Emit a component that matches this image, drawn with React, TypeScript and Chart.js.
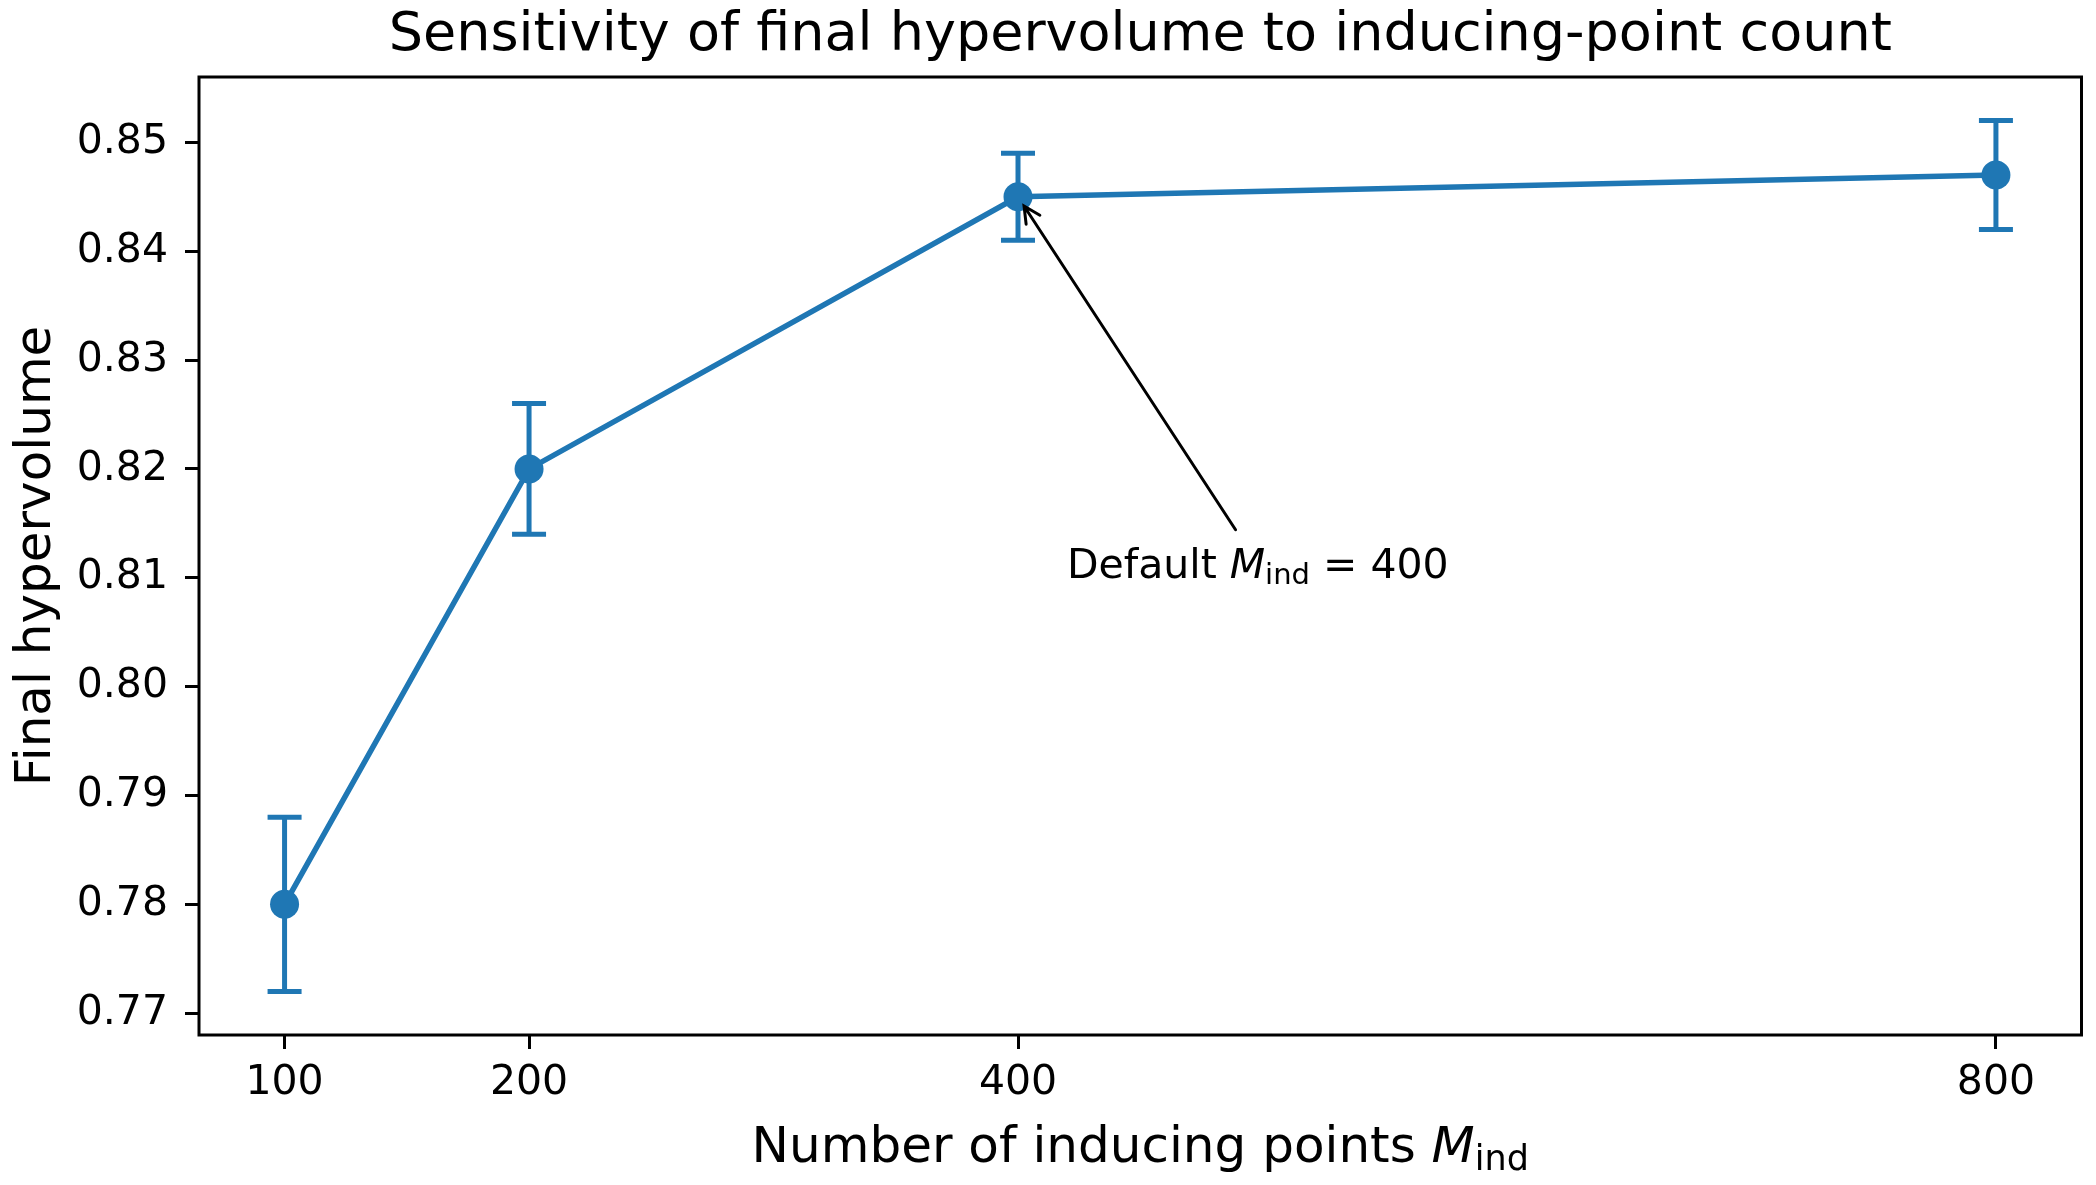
import React, { useEffect, useRef } from "react";
import { Chart, registerables } from "chart.js";

Chart.register(...registerables);

// ---- data ----
const inducingPoints = [100, 200, 400, 800];
const finalHypervolume = [0.78, 0.82, 0.845, 0.847];
const hypervolumeErr = [0.008, 0.006, 0.004, 0.005];
const xTickValues = [100, 200, 400, 800];
const yTickValues = [0.77, 0.78, 0.79, 0.8, 0.81, 0.82, 0.83, 0.84, 0.85];

const titleText = "Sensitivity of final hypervolume to inducing-point count";
const yAxisLabel = "Final hypervolume";
const xAxisLabelPrefix = "Number of inducing points ";
const annotationPrefix = "Default ";
const annotationSuffix = " = 400";
const defaultIndex = 2; // M_ind = 400
const annotationTextAt = { x: 420, y: 0.81 };

const BLUE = "#1f77b4";
const FAM = '"DejaVu Sans", sans-serif';

type Part = { text: string; size: number; italic?: boolean; dy?: number };

function measureParts(ctx: CanvasRenderingContext2D, parts: Part[]) {
  let w = 0;
  for (const p of parts) {
    ctx.font = `${p.italic ? "oblique " : ""}${p.size}px ${FAM}`;
    w += ctx.measureText(p.text).width;
  }
  return w;
}

function drawParts(ctx: CanvasRenderingContext2D, parts: Part[], x: number, y: number) {
  let cx = x;
  ctx.textBaseline = "alphabetic";
  ctx.textAlign = "left";
  for (const p of parts) {
    ctx.font = `${p.italic ? "oblique " : ""}${p.size}px ${FAM}`;
    ctx.fillText(p.text, cx, y + (p.dy || 0));
    cx += ctx.measureText(p.text).width;
  }
}

const decorPlugin = {
  id: "decor",
  beforeDatasetsDraw(chart: any) {
    const { ctx, scales } = chart;
    const xs = scales.x;
    const ys = scales.y;
    ctx.save();
    ctx.strokeStyle = BLUE;
    ctx.lineWidth = 5;
    ctx.lineCap = "butt";
    for (let i = 0; i < inducingPoints.length; i++) {
      const px = xs.getPixelForValue(inducingPoints[i]);
      const top = ys.getPixelForValue(finalHypervolume[i] + hypervolumeErr[i]);
      const bot = ys.getPixelForValue(finalHypervolume[i] - hypervolumeErr[i]);
      ctx.beginPath();
      ctx.moveTo(px, top);
      ctx.lineTo(px, bot);
      ctx.moveTo(px - 17, top);
      ctx.lineTo(px + 17, top);
      ctx.moveTo(px - 17, bot);
      ctx.lineTo(px + 17, bot);
      ctx.stroke();
    }
    ctx.restore();
  },
  afterDraw(chart: any) {
    const { ctx, chartArea, scales } = chart;
    const xs = scales.x;
    const ys = scales.y;
    const midX = (chartArea.left + chartArea.right) / 2;
    const midY = (chartArea.top + chartArea.bottom) / 2;
    ctx.save();
    // frame
    ctx.strokeStyle = "#000";
    ctx.lineWidth = 3;
    ctx.strokeRect(chartArea.left, chartArea.top, chartArea.right - chartArea.left, chartArea.bottom - chartArea.top);

    ctx.fillStyle = "#000";
    // title
    ctx.font = `54px ${FAM}`;
    ctx.textAlign = "center";
    ctx.textBaseline = "alphabetic";
    ctx.fillText(titleText, midX, 50);

    // y label
    ctx.save();
    ctx.translate(50, midY);
    ctx.rotate(-Math.PI / 2);
    ctx.font = `50px ${FAM}`;
    ctx.textAlign = "center";
    ctx.fillText(yAxisLabel, 0, 0);
    ctx.restore();

    // x label
    const xParts: Part[] = [
      { text: xAxisLabelPrefix, size: 50 },
      { text: "M", size: 50, italic: true },
      { text: "ind", size: 35, dy: 8 },
    ];
    const xw = measureParts(ctx, xParts);
    drawParts(ctx, xParts, midX - xw / 2, 1162);

    // annotation
    const aParts: Part[] = [
      { text: annotationPrefix, size: 41 },
      { text: "M", size: 41, italic: true },
      { text: "ind", size: 29, dy: 6 },
      { text: annotationSuffix, size: 41 },
    ];
    const ax = xs.getPixelForValue(annotationTextAt.x);
    const ay = ys.getPixelForValue(annotationTextAt.y);
    const aw = measureParts(ctx, aParts);
    drawParts(ctx, aParts, ax, ay);

    // arrow
    const tx = xs.getPixelForValue(inducingPoints[defaultIndex]);
    const ty = ys.getPixelForValue(finalHypervolume[defaultIndex]);
    const cx = ax + aw / 2;
    const cy = ay - 14;
    const sy = ay - 48;
    const t = (cy - sy) / (cy - ty);
    const sx = cx + (tx - cx) * t;
    const dx = tx - sx;
    const dy = ty - sy;
    const len = Math.hypot(dx, dy);
    const ux = dx / len;
    const uy = dy / len;
    const ex = tx - ux * 11;
    const ey = ty - uy * 11;
    ctx.strokeStyle = "#000";
    ctx.lineWidth = 3;
    ctx.lineCap = "round";
    ctx.beginPath();
    ctx.moveTo(sx, sy);
    ctx.lineTo(ex, ey);
    const hl = 16.4;
    const hw = 8.2;
    const bx = ex - ux * hl;
    const by = ey - uy * hl;
    ctx.moveTo(bx - uy * hw, by + ux * hw);
    ctx.lineTo(ex, ey);
    ctx.lineTo(bx + uy * hw, by - ux * hw);
    ctx.stroke();
    ctx.restore();
  },
};

export default function App() {
  const ref = useRef<HTMLCanvasElement | null>(null);
  useEffect(() => {
    if (!ref.current) return;
    const chart = new Chart(ref.current, {
      type: "line",
      data: {
        datasets: [
          {
            data: inducingPoints.map((x, i) => ({ x, y: finalHypervolume[i] })),
            borderColor: BLUE,
            backgroundColor: BLUE,
            borderWidth: 5.5,
            pointRadius: 14.5,
            pointBorderWidth: 0,
            pointBackgroundColor: BLUE,
            tension: 0,
            fill: false,
          },
        ],
      },
      options: {
        responsive: false,
        animation: false,
        devicePixelRatio: 1,
        layout: { padding: { top: 77, right: 12, left: 0, bottom: 0 } },
        plugins: {
          legend: { display: false },
          tooltip: { enabled: false },
          title: { display: false },
        },
        scales: {
          x: {
            type: "linear",
            min: 65,
            max: 835,
            afterBuildTicks: (s: any) => {
              s.ticks = xTickValues.map((v) => ({ value: v }));
            },
            afterFit: (s: any) => {
              s.height = 150;
              s.paddingLeft = 0;
              s.paddingRight = 0;
              s.paddingTop = 0;
              s.paddingBottom = 0;
            },
            grid: {
              display: true,
              drawOnChartArea: false,
              drawTicks: true,
              tickLength: 14,
              tickWidth: 3,
              tickColor: "#000",
            },
            border: { display: false },
            ticks: {
              color: "#000",
              font: { family: FAM, size: 41 },
              padding: 10,
              maxRotation: 0,
              autoSkip: false,
              callback: (v: any) => String(v),
            },
          },
          y: {
            type: "linear",
            min: 0.768,
            max: 0.856,
            afterBuildTicks: (s: any) => {
              s.ticks = yTickValues.map((v) => ({ value: v }));
            },
            afterFit: (s: any) => {
              s.width = 199;
              s.paddingLeft = 0;
              s.paddingRight = 0;
              s.paddingTop = 0;
              s.paddingBottom = 0;
            },
            grid: {
              display: true,
              drawOnChartArea: false,
              drawTicks: true,
              tickLength: 14,
              tickWidth: 3,
              tickColor: "#000",
            },
            border: { display: false },
            ticks: {
              color: "#000",
              font: { family: FAM, size: 41 },
              padding: 17,
              autoSkip: false,
              callback: (v: any) => Number(v).toFixed(2),
            },
          },
        },
      },
      plugins: [decorPlugin],
    } as any);
    return () => chart.destroy();
  }, []);
  return (
    <div style={{ position: "absolute", left: 0, top: 0, width: 2096, height: 1185, background: "#fff" }}>
      <canvas ref={ref} width={2096} height={1185} />
    </div>
  );
}
